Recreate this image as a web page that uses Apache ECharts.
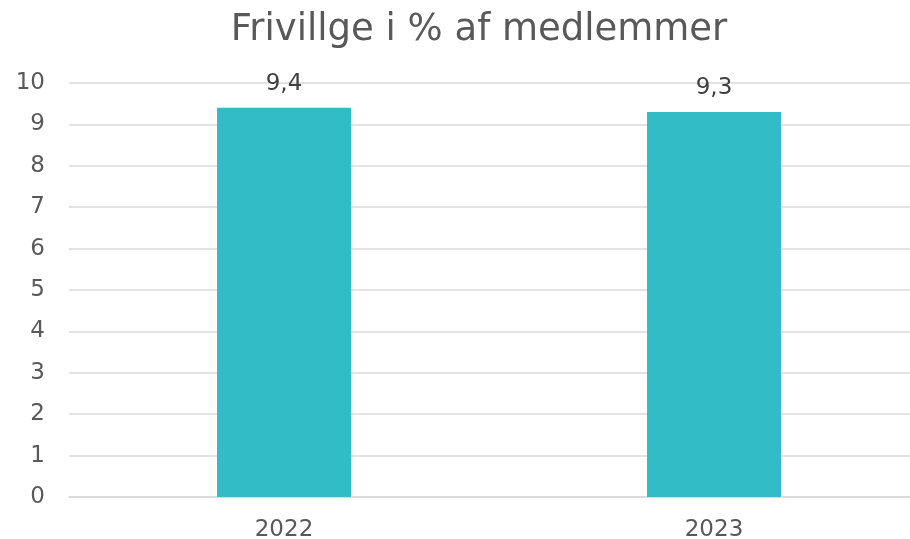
<!DOCTYPE html>
<html>
<head>
<meta charset="utf-8">
<script src="https://cdn.jsdelivr.net/npm/echarts@6/dist/echarts.min.js"></script>
<style>
    html, body { margin: 0; padding: 0; background: #fff; }
    #chart { width: 910px; height: 539px; }
</style>
</head>
<body>
<div id="chart"></div>
<script>
const categories = ['2022', '2023']
const values = [9.4, 9.3]
const yTicks = [0, 10, 1]  // min, max, interval

const chart = echarts.init(document.getElementById('chart'))

const option = {
    animation: false,
    title: {
        text: 'Frivillge i % af medlemmer',
        left: 474,
        textAlign: 'center',
        top: 7,
        textStyle: {
            fontFamily: 'DejaVu Sans',
            fontSize: 37,
            fontWeight: 'normal',
            color: '#595959'
        }
    },
    grid: {
        left: 69,
        top: 83,
        width: 860,
        height: 414,
        outerBoundsMode: 'none'
    },
    xAxis: {
        type: 'category',
        data: categories,
        axisTick: { show: false },
        axisLine: { lineStyle: { color: '#d9d9d9', width: 1.5 } },
        axisLabel: {
            fontFamily: 'DejaVu Sans',
            fontSize: 23,
            color: '#595959',
            margin: 22
        }
    },
    yAxis: {
        type: 'value',
        min: yTicks[0],
        max: yTicks[1],
        interval: yTicks[2],
        axisLine: { show: false },
        axisTick: { show: false },
        splitLine: { lineStyle: { color: '#d9d9d9', width: 1.5 } },
        axisLabel: {
            fontFamily: 'DejaVu Sans',
            fontSize: 23,
            color: '#595959',
            margin: 24
        }
    },
    series: [
        {
            type: 'bar',
            data: values,
            barWidth: 134,
            itemStyle: { color: '#31bcc6' },
            label: {
                show: true,
                position: 'top',
                distance: 12,
                fontFamily: 'DejaVu Sans',
                fontSize: 23,
                color: '#404040',
                formatter: p => String(p.value).replace('.', ',')
            }
        }
    ]
}

chart.setOption(option)
</script>
</body>
</html>
